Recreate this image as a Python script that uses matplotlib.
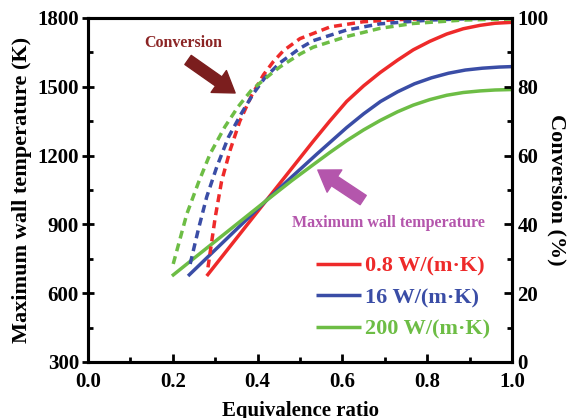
import numpy as np
import matplotlib
matplotlib.use("Agg")
import matplotlib.pyplot as plt
from matplotlib.ticker import MultipleLocator

plt.rcParams["font.family"] = ["Liberation Serif", "DejaVu Serif"]
plt.rcParams["font.weight"] = "bold"

labels = ["0.8 W/(m·K)", "16 W/(m·K)", "200 W/(m·K)"]
colors = ["#EE2A2A", "#3A4DA6", "#6DBD45"]

# maximum wall temperature (K), left axis
temp_x_red = [0.28, 0.35, 0.42, 0.48, 0.531, 0.57, 0.61, 0.65, 0.689, 0.73, 0.767, 0.806, 0.846, 0.885, 0.925, 0.96, 1.0]
temp_y_red = [675, 839, 1003, 1143, 1262, 1350, 1436, 1504, 1562, 1616, 1661, 1698, 1730, 1753, 1768, 1777, 1781]
temp_x_blue = [0.236, 0.30, 0.36, 0.42, 0.48, 0.54, 0.61, 0.65, 0.69, 0.73, 0.77, 0.81, 0.85, 0.89, 0.93, 0.97, 1.0]
temp_y_blue = [675, 789, 896, 1003, 1106, 1207, 1322, 1382, 1436, 1478, 1513, 1539, 1559, 1573, 1581, 1586, 1588]
temp_x_green = [0.198, 0.26, 0.34, 0.42, 0.48, 0.531, 0.57, 0.61, 0.65, 0.689, 0.73, 0.767, 0.806, 0.846, 0.885, 0.925, 0.96, 1.0]
temp_y_green = [675, 767, 885, 1003, 1090, 1160, 1213, 1265, 1312, 1353, 1391, 1420, 1444, 1463, 1475, 1482, 1486, 1488]

# conversion (%), right axis
conv_x_red = [0.283, 0.30, 0.315, 0.335, 0.358, 0.386, 0.414, 0.437, 0.461, 0.50, 0.571, 0.649, 0.728, 0.80, 0.90, 1.0]
conv_y_red = [27.5, 42, 52.5, 61.5, 70, 77.5, 83.5, 87.3, 90.5, 94, 97.4, 98.9, 99.5, 99.8, 99.95, 100]
conv_x_blue = [0.241, 0.26, 0.28, 0.304, 0.331, 0.362, 0.39, 0.417, 0.453, 0.50, 0.531, 0.61, 0.689, 0.807, 0.90, 1.0]
conv_y_blue = [28.5, 38.4, 48, 56.8, 65.3, 72.3, 78, 82.6, 87, 91.2, 93.4, 96.5, 98.3, 99.4, 99.8, 100]
conv_x_green = [0.201, 0.233, 0.26, 0.288, 0.323, 0.354, 0.386, 0.433, 0.453, 0.50, 0.531, 0.61, 0.689, 0.767, 0.885, 1.0]
conv_y_green = [28.5, 43, 52, 60.5, 68.4, 74.2, 79.1, 83.9, 85.8, 89.5, 91.5, 94.6, 97, 98.4, 99.4, 99.7]

temp_x = [temp_x_red, temp_x_blue, temp_x_green]
temp_y = [temp_y_red, temp_y_blue, temp_y_green]
conv_x = [conv_x_red, conv_x_blue, conv_x_green]
conv_y = [conv_y_red, conv_y_blue, conv_y_green]

fig = plt.figure(figsize=(5.74, 4.18), dpi=100)
ax = fig.add_axes([0.1533, 0.134, 0.7387, 0.823])
ax2 = ax.twinx()

for xs, ys, c, lab in zip(temp_x, temp_y, colors, labels):
    ax.plot(xs, ys, color=c, lw=2.5, label=lab, solid_capstyle="butt")
for xs, ys, c in zip(conv_x, conv_y, colors):
    ax2.plot(xs, ys, color=c, lw=2.5, linestyle=(0, (2.3, 1.5)))

ax.set_xlim(0, 1)
ax.set_ylim(300, 1800)
ax2.set_ylim(0, 100)

ax.xaxis.set_major_locator(MultipleLocator(0.2))
ax.xaxis.set_minor_locator(MultipleLocator(0.1))
ax.yaxis.set_major_locator(MultipleLocator(300))
ax.yaxis.set_minor_locator(MultipleLocator(150))
ax2.yaxis.set_major_locator(MultipleLocator(20))
ax2.yaxis.set_minor_locator(MultipleLocator(10))
ax.xaxis.set_major_formatter(plt.FuncFormatter(lambda v, p: f"{v:.1f}"))

for a in (ax, ax2):
    for s in a.spines.values():
        s.set_linewidth(2.2)
ax.tick_params(axis="x", which="major", direction="in", length=6, width=2, labelsize=15, pad=7)
ax.tick_params(axis="x", which="minor", direction="in", length=3.5, width=2)
ax.tick_params(axis="y", which="major", direction="inout", length=9, width=2, labelsize=15, pad=2)
ax.tick_params(axis="y", which="minor", direction="in", length=3.5, width=2)
ax2.tick_params(axis="y", which="major", direction="in", length=6, width=2, labelsize=15, pad=4)
ax2.tick_params(axis="y", which="minor", direction="in", length=3.5, width=2)

ax.set_xlabel("Equivalence ratio", fontsize=15, fontweight="bold", labelpad=7)
ax.set_ylabel("Maximum wall temperature (K)", fontsize=16, fontweight="bold", labelpad=4)
ax2.set_ylabel("Conversion (%)", fontsize=16, fontweight="bold", rotation=270, labelpad=13)

# annotations
ax.text(0.224, 1691, "Conversion", color="#8B2424", fontsize=11.5, fontweight="bold", ha="center", va="center")
ax.annotate("", xy=(0.347, 1473), xytext=(0.236, 1617),
            arrowprops=dict(arrowstyle="simple,head_length=0.9,head_width=1.2,tail_width=0.5",
                            color="#7B1E1E", mutation_scale=16, shrinkA=0, shrinkB=0))
ax.text(0.708, 906, "Maximum wall temperature", color="#B456AC", fontsize=11.5, fontweight="bold", ha="center", va="center")
ax.annotate("", xy=(0.542, 1137), xytext=(0.649, 1006),
            arrowprops=dict(arrowstyle="simple,head_length=0.9,head_width=1.2,tail_width=0.5",
                            color="#B456AC", mutation_scale=16, shrinkA=0, shrinkB=0))

h, l = ax.get_legend_handles_labels()
ax2.legend(h, l, loc="upper left", bbox_to_anchor=(0.538, 0.307), frameon=False,
           labelcolor="linecolor", handlelength=2.0, handletextpad=0.2, labelspacing=0.48,
           borderpad=0, borderaxespad=0, prop={"weight": "bold", "size": 16})

fig.savefig("out.png", dpi=100)
